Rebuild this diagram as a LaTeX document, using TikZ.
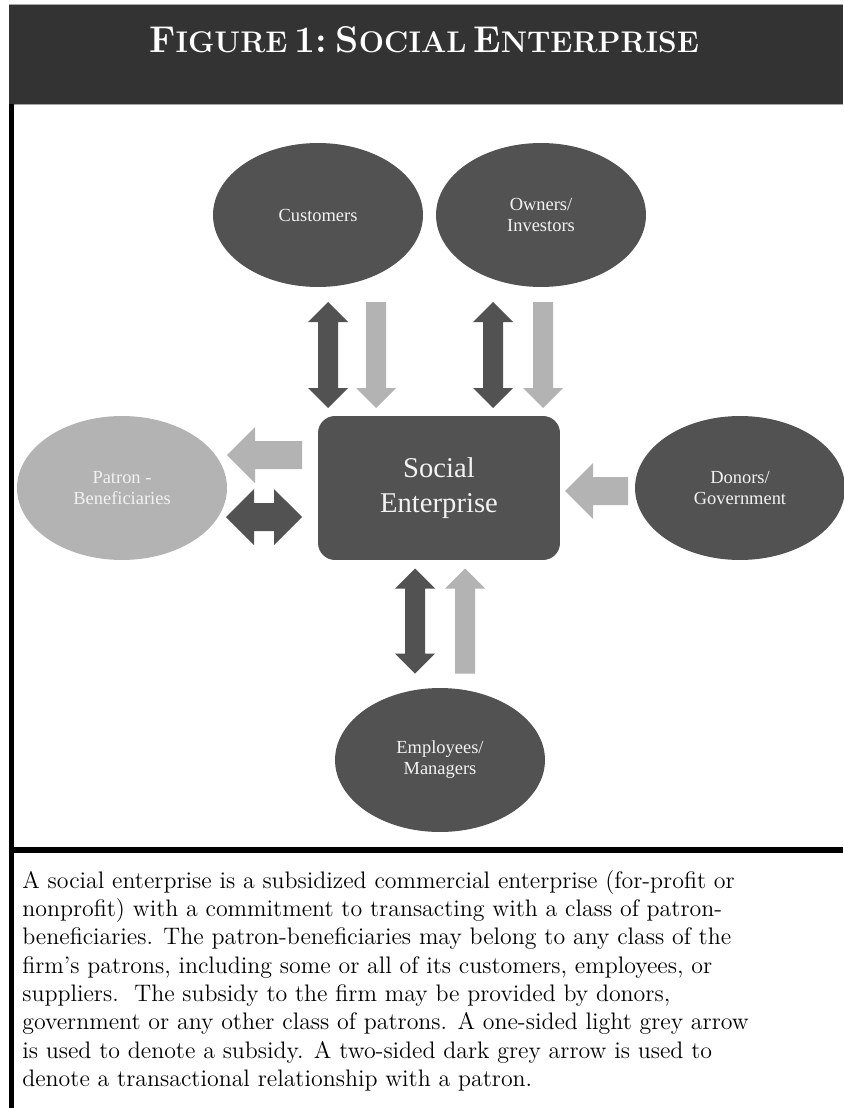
\documentclass[tikz,border=0pt]{standalone}
\usepackage{fontspec}
\newfontfamily\labelfont{Liberation Serif}
\usetikzlibrary{shapes.geometric}
\definecolor{darknode}{HTML}{525252}
\definecolor{lightnode}{HTML}{B3B3B3}
\definecolor{headbar}{HTML}{333333}
\definecolor{labeltext}{HTML}{F2F2F2}
\newcommand{\hdcap}[2]{{\fontsize{21.2}{21.2}\selectfont #1}{\fontsize{17}{17}\selectfont #2}}
\newcommand{\onewayarrow}[5]{\fill[#5,shift={#1},rotate=#2] (-#3/2,-#4/2) -- (#3/2-#4,-#4/2) -- (#3/2-#4,-#4) -- (#3/2,0) -- (#3/2-#4,#4) -- (#3/2-#4,#4/2) -- (-#3/2,#4/2) -- cycle;}
\newcommand{\twowayarrow}[5]{\fill[#5,shift={#1},rotate=#2] (-#3/2,0) -- (-#3/2+#4,-#4) -- (-#3/2+#4,-#4/2) -- (#3/2-#4,-#4/2) -- (#3/2-#4,-#4) -- (#3/2,0) -- (#3/2-#4,#4) -- (#3/2-#4,#4/2) -- (-#3/2+#4,#4/2) -- (-#3/2+#4,#4) -- cycle;}
\tikzset{
    patron/.style={ellipse,fill=darknode,minimum width=4.2cm,minimum height=2.88cm,inner sep=0pt,align=center,text=labeltext,font=\labelfont\fontsize{10.5}{12}\selectfont},
    beneficiary/.style={patron,fill=lightnode},
    firm/.style={rectangle,rounded corners=0.34cm,fill=darknode,minimum width=4.84cm,minimum height=2.88cm,align=center,text=labeltext,font=\labelfont\fontsize{16.3}{19.5}\selectfont},
}
\begin{document}
\begin{tikzpicture}[x=0.02cm,y=-0.02cm]
    \useasboundingbox[fill=white] (0,0) rectangle (843,1108);
    \fill[headbar] (9,4) rectangle (843,104);
    \draw[gray!70,thin] (9,4) -- (843,4);
    \draw[gray!70,thin] (9,104) -- (843,104);
    \fill[black] (9,104) rectangle (14,1108);
    \fill[black] (9,847) rectangle (843,853);
    \node[text=white,font=\bfseries] (title) at (424,40) {\hdcap{F}{IGURE} \hdcap{1:}{} \hdcap{S}{OCIAL} \hdcap{E}{NTERPRISE}};
    \node[firm] (se) at (439,488) {Social\\Enterprise};
    \node[patron] (cust) at (318,215) {Customers};
    \node[patron] (own) at (541,215) {Owners/\\Investors};
    \node[beneficiary] (benef) at (122,488) {Patron -\\Beneficiaries};
    \node[patron] (donor) at (740,488) {Donors/\\Government};
    \node[patron] (empl) at (440,760) {Employees/\\Managers};
    \twowayarrow{(328,355)}{90}{106}{20}{darknode}
    \onewayarrow{(376,355)}{-90}{106}{20}{lightnode}
    \twowayarrow{(493,355)}{90}{106}{20}{darknode}
    \onewayarrow{(543,355)}{-90}{106}{20}{lightnode}
    \twowayarrow{(415,621)}{90}{105}{20}{darknode}
    \onewayarrow{(465,621)}{90}{105}{20}{lightnode}
    \onewayarrow{(264.5,455)}{180}{75}{28}{lightnode}
    \twowayarrow{(264,517)}{0}{76}{28}{darknode}
    \onewayarrow{(596.5,491)}{180}{63}{28}{lightnode}
    \node[anchor=north west,inner sep=0pt,align=left,font=\fontsize{13.6}{16.1}\selectfont] (caption) at (22,870) {A social enterprise is a subsidized commercial enterprise (for-profit or\\
nonprofit) with a commitment to transacting with a class of patron-\\
beneficiaries. The patron-beneficiaries may belong to any class of the\\
firm’s patrons, including some or all of its customers, employees, or\\
suppliers.\ \ The subsidy to the firm may be provided by donors,\\
government or any other class of patrons. A one-sided light grey arrow\\
is used to denote a subsidy. A two-sided dark grey arrow is used to\\
denote a transactional relationship with a patron.};
\end{tikzpicture}
\end{document}
